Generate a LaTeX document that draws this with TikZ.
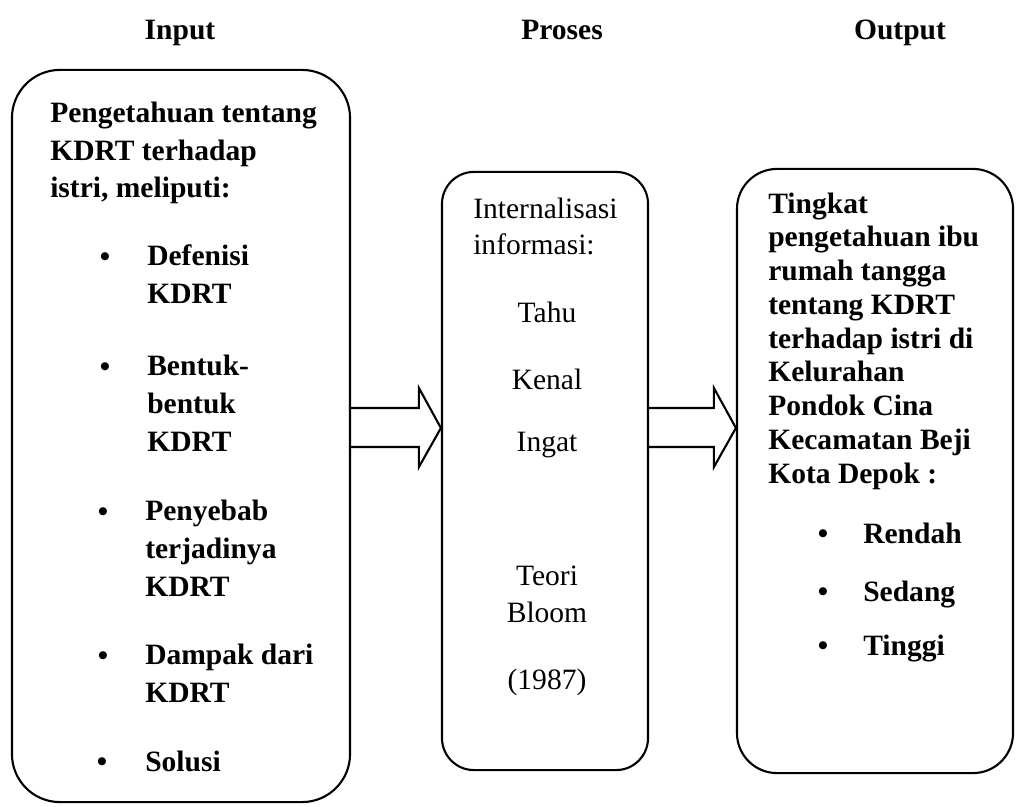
\documentclass[tikz,border=0pt]{standalone}
\usepackage{fontspec}
\setmainfont{Liberation Serif}
\usetikzlibrary{calc}

\tikzset{
  box/.style={draw,line width=1.5pt,inner sep=0pt},
  head/.style={inner sep=0pt,anchor=base,font=\fontsize{21}{26}\selectfont\bfseries},
  lt/.style={inner sep=0pt,align=left,anchor=base west,font=\fontsize{21}{26.7}\selectfont\bfseries},
  rt/.style={inner sep=0pt,align=left,anchor=base west,font=\fontsize{21}{24}\selectfont\bfseries},
  mt/.style={inner sep=0pt,align=center,anchor=base,font=\fontsize{21}{26.3}\selectfont},
  dot/.style={inner sep=0pt,anchor=base,font=\fontsize{21}{26}\selectfont\bfseries},
  arr/.style={line width=1.5pt,line join=miter}
}

\begin{document}
\begin{tikzpicture}[x=0.025cm,y=-0.025cm]
\useasboundingbox (0,0) rectangle (1018,807);

% headings
\node[head] (hin) at (180,40) {Input};
\node[head] (hpro) at (562,40) {Proses};
\node[head] (hout) at (900,40) {Output};

% the three boxes
\node[box,rounded corners=1.2cm,minimum width=8.45cm,minimum height=18.3cm] (inbox) at (181,436) {};
\node[box,rounded corners=0.8cm,minimum width=5.15cm,minimum height=14.95cm] (prbox) at (545,471) {};
\node[box,rounded corners=1cm,minimum width=6.9cm,minimum height=15.1cm] (outbox) at (875,471) {};

% input (multi-line nodes sit on their last line)
\node[lt] (k0) at (50,198) {Pengetahuan tentang\\KDRT terhadap\\istri, meliputi:};
\node[dot] (b1) at (105,266) {\textbullet};
\node[lt] (k1) at (147,303.5) {Defenisi\\KDRT};
\node[dot] (b2) at (105,376) {\textbullet};
\node[lt] (k2) at (147,451) {Bentuk-\\bentuk\\KDRT};
\node[dot] (b3) at (103,521) {\textbullet};
\node[lt] (k3) at (145,596) {Penyebab\\terjadinya\\KDRT};
\node[dot] (b4) at (103,665) {\textbullet};
\node[lt] (k4) at (145,702.5) {Dampak dari\\KDRT};
\node[dot] (b5) at (102,771) {\textbullet};
\node[lt] (k5) at (145,771) {Solusi};

% proses
\node[inner sep=0pt,align=left,anchor=base west,font=\fontsize{21}{26.3}\selectfont] (p0) at (473,255) {Internalisasi\\informasi:};
\node[mt] (p1) at (547,322) {Tahu};
\node[mt] (p2) at (547,389) {Kenal};
\node[mt] (p3) at (547,451) {Ingat};
\node[mt] (p4) at (547,622) {Teori\\Bloom};
\node[mt] (p5) at (547,689) {(1987)};

% output
\node[rt] (o0) at (768,483) {Tingkat\\pengetahuan ibu\\rumah tangga\\tentang KDRT\\terhadap istri di\\Kelurahan\\Pondok Cina\\Kecamatan Beji\\Kota Depok :};
\node[dot] (c1) at (823,543) {\textbullet};
\node[rt] (o1) at (863,543) {Rendah};
\node[dot] (c2) at (823,601) {\textbullet};
\node[rt] (o2) at (863,601) {Sedang};
\node[dot] (c3) at (823,655) {\textbullet};
\node[rt] (o3) at (863,655) {Tinggi};

% block arrows
\draw[arr] (inbox.east |- 0,408) -- ($(prbox.west |- 0,408)+(-22,0)$) -- ++(0,-20) -- (prbox.west |- 0,428)
  -- ($(prbox.west |- 0,467)+(-22,0)$) -- ++(0,-20) -- (inbox.east |- 0,447);
\draw[arr] (prbox.east |- 0,408) -- ($(outbox.west |- 0,408)+(-22,0)$) -- ++(0,-20) -- (outbox.west |- 0,428)
  -- ($(outbox.west |- 0,467)+(-22,0)$) -- ++(0,-20) -- (prbox.east |- 0,447);
\end{tikzpicture}
\end{document}
